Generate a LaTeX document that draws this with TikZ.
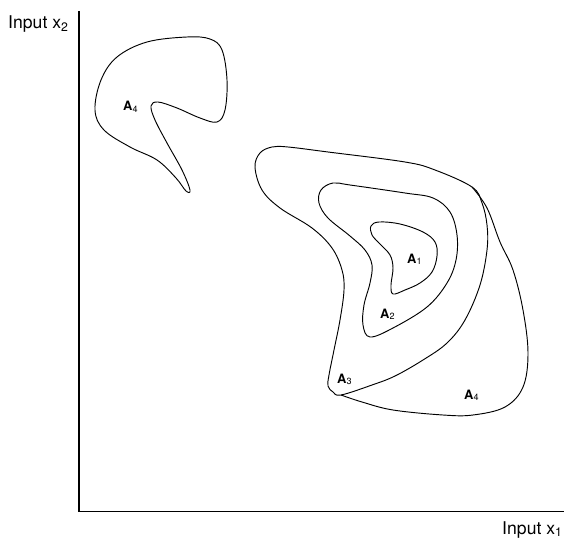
\documentclass[tikz,border=0pt]{standalone}
\usepackage{fontspec}
\setmainfont{TeX Gyre Heros}
\usetikzlibrary{positioning}

\begin{document}
\begin{tikzpicture}[
    x=0.03cm, y=-0.03cm,
    axis/.style={line width=1pt},
    region/.style={line width=0.8pt, line join=round},
    axislabel/.style={font=\fontsize{15}{18}\selectfont, inner sep=0pt, anchor=base west},
    arealabel/.style={font=\fontsize{11}{13}\selectfont, inner sep=0pt, anchor=base west}
]
    \useasboundingbox (0,0) rectangle (564,539);

    % Axes
    \coordinate (origin) at (79,511.5);
    \coordinate (ytop) at (79,11);
    \coordinate (xend) at (564,511.5);
    \draw[axis] (ytop) -- (origin) -- (xend);
    \node[axislabel] (ylabel) at (8,29) {Input x\textsubscript{2}};
    \node[axislabel] (xlabel) at (502,534) {Input x\textsubscript{1}};

    % Small region in the upper left
    \draw[region] plot[smooth cycle, tension=0.6] coordinates {
        (95,110) (101,80) (117,57) (147,42) (187,37) (210,39) (222,50) (227,80)
        (225,110) (217,122) (200,118) (177,108) (158,102) (151,106) (155,120)
        (167,143) (182,170) (190,190) (186,191) (176,178) (157,160) (130,147) (104,130)};
    \node[arealabel] (a4small) at (123,111) {\textbf{A}\textsubscript{4}};

    % Large region: points where the A4 curve leaves the A3 curve
    \coordinate (tr) at (472,187);
    \coordinate (bl) at (341,395);

    % Outline of A3
    \draw[region] plot[smooth cycle, tension=0.6] coordinates {
        (tr) (435,170) (405,162) (328,152) (288,147) (272,147) (260,153) (255,167)
        (262,190) (280,208) (312,228) (332,248) (342,270) (344,290) (340,320)
        (334,350) (329,375) (328,386) (333,392) (bl) (372,385) (395,376) (423,360)
        (447,343) (465,320) (480,285) (487,250) (487,225) (482,203)};

    % Outline of A4
    \draw[region] plot[smooth, tension=0.6] coordinates {
        (tr) (487,208) (500,242) (513,270) (523,310) (528,353) (523,387)
        (505,407) (473,415) (443,415) (393,410) (362,402) (bl)};

    % A2 and A1
    \draw[region] plot[smooth cycle, tension=0.6] coordinates {
        (321,190) (333,183) (350,185) (405,193) (433,198) (450,212) (457,235)
        (456,260) (447,283) (427,307) (393,328) (370,337) (363,325) (364,305)
        (370,283) (372,265) (365,250) (350,236) (328,218) (319,203)};
    \draw[region] plot[smooth cycle, tension=0.6] coordinates {
        (371,226) (379,222) (400,224) (423,232) (435,242) (437,256) (432,272)
        (420,283) (405,290) (393,294) (391,285) (393,268) (390,255) (380,244) (372,235)};

    % Labels
    \node[arealabel] (a1) at (407,263) {\textbf{A}\textsubscript{1}};
    \node[arealabel] (a2) at (380,318) {\textbf{A}\textsubscript{2}};
    \node[arealabel] (a3) at (337,383) {\textbf{A}\textsubscript{3}};
    \node[arealabel] (a4) at (464,399) {\textbf{A}\textsubscript{4}};
\end{tikzpicture}
\end{document}
